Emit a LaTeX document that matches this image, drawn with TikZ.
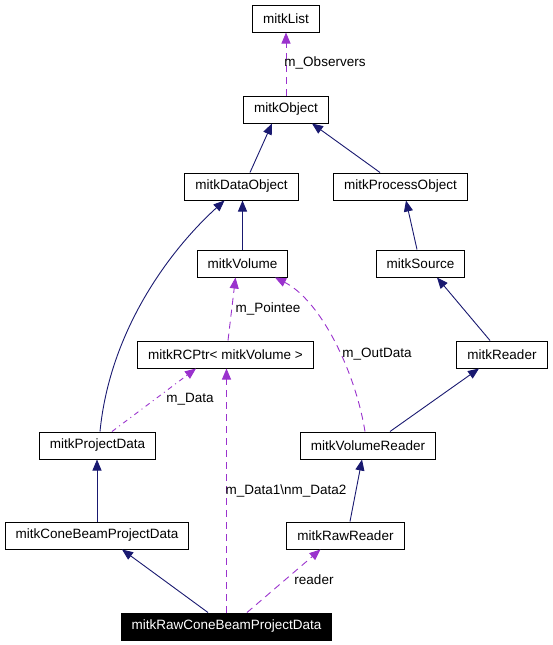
\documentclass[tikz,border=0pt]{standalone}
\usepackage{fontspec}
\setmainfont{Liberation Sans}
\usepackage{tikz}
\usetikzlibrary{arrows.meta}
\definecolor{navy}{HTML}{191970}
\definecolor{orchid}{HTML}{9A32CD}
\tikzstyle{cls}=[draw, line width=1pt, minimum height=27pt, inner xsep=10.5pt, inner ysep=0pt, font=\fontsize{13.5}{16}\selectfont]
\tikzstyle{lbl}=[inner sep=0pt, font=\fontsize{13.5}{16}\selectfont]
\tikzstyle{inh}=[navy, line width=0.9pt, -{Triangle[length=11pt,width=9pt]}]
\tikzstyle{member}=[orchid, line width=0.9pt, dash pattern=on 7pt off 5pt, -{Triangle[length=11pt,width=9pt]}]
\newcommand{\cls}{\node[cls]}

\begin{document}
\begin{tikzpicture}[x=1pt, y=-1pt]
    \useasboundingbox (0,0) rectangle (552,645);
    \cls (list) at (286,18.5) {mitkList};
    \cls (obj) at (286,109.5) {mitkObject};
    \cls (dobj) at (241.5,186.5) {mitkDataObject};
    \cls (pobj) at (400.5,186.5) {mitkProcessObject};
    \cls (vol) at (242.5,263.5) {mitkVolume};
    \cls (src) at (420.5,263.5) {mitkSource};
    \cls (rcptr) at (225.5,354.5) {mitkRCPtr< mitkVolume >};
    \cls (rdr) at (502,354.5) {mitkReader};
    \cls (pd) at (97.5,445.5) {mitkProjectData};
    \cls (vrdr) at (368,445.5) {mitkVolumeReader};
    \cls (cbpd) at (97,535.5) {mitkConeBeamProjectData};
    \cls (rrdr) at (345.5,535.5) {mitkRawReader};
    \cls[fill=black, text=white] (rcbpd) at (226.5,626.5) {mitkRawConeBeamProjectData};
    \path
    ([xshift=8.5pt]dobj.north) edge[inh] ([xshift=-14pt]obj.south)
    ([xshift=-20.5pt]pobj.north) edge[inh] ([xshift=26pt]obj.south)
    (vol.north) edge[inh] (vol.north |- dobj.south)
    ([xshift=-3.5pt]src.north) edge[inh] ([xshift=5.5pt]pobj.south)
    ([xshift=-12pt]rdr.north) edge[inh] ([xshift=16.5pt]src.south)
    ([xshift=22pt]vrdr.north) edge[inh] ([xshift=-23pt]rdr.south)
    (cbpd.north) edge[inh] (cbpd.north |- pd.south)
    ([xshift=4.5pt]rrdr.north) edge[inh] ([xshift=-6pt]vrdr.south)
    ([xshift=-18.5pt]rcbpd.north) edge[inh] ([xshift=25pt]cbpd.south);
    \draw[inh] ([xshift=2.5pt]pd.north) .. controls (110,330) and (170,250) .. ([xshift=-17pt]dobj.south);
    \path
    (obj.north) edge[member] (list.south)
    ([xshift=2.5pt]rcptr.north) edge[member] ([xshift=-7pt]vol.south)
    ([xshift=14.5pt]pd.north) edge[member, dash pattern=on 5pt off 4pt on 1pt off 4pt] ([xshift=-29.5pt]rcptr.south)
    (rcbpd.north) edge[member] (rcbpd.north |- rcptr.south)
    ([xshift=20.5pt]rcbpd.north) edge[member] ([xshift=-25pt]rrdr.south);
    \draw[member] ([xshift=-3pt]vrdr.north) .. controls (355,370) and (320,300) .. ([xshift=32.5pt]vol.south);
    \node[lbl] (lobs) at (325,63) {m\_Observers};
    \node[lbl] (lptr) at (268,309) {m\_Pointee};
    \node[lbl] (lout) at (377,354) {m\_OutData};
    \node[lbl] (ldata) at (190,399) {m\_Data};
    \node[lbl] (ldata12) at (286,491) {m\_Data1\textbackslash nm\_Data2};
    \node[lbl] (lrdr) at (314,580) {reader};
\end{tikzpicture}
\end{document}
